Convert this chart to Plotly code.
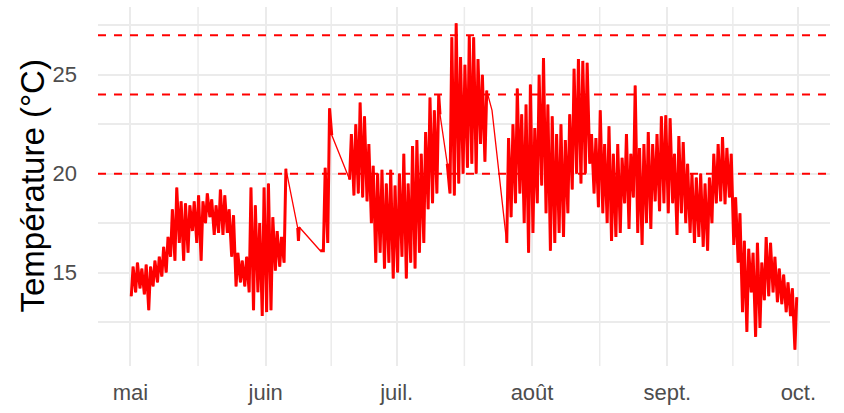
import plotly.graph_objects as go
import pandas as pd

# ---------------- data ----------------
start_day = "2023-05-01"
# daily minimum / maximum temperature (°C); None = no continuous record that day
t_min = [13.8, 14.0, 14.2, 13.9, 13.1, 14.3, 14.5, 14.8, 15.0, 15.8,
         15.6, 16.5, 15.6, 16.0, 17.1, 16.5, 15.6, 17.5, 17.8, 16.9,
         17.0, 16.9, 17.0, 15.8, 14.3, 14.5, 14.3, 14.0, 13.1, 14.0,
         12.8, 13.0, 13.1, 15.1, 15.3, 15.5, None, None, None, None,
         None, None, None, None, 16.1, 16.5, None, None, None, None,
         19.7, 18.9, 19.0, 18.8, 18.6, 17.5, 15.5, 16.0, 15.2, 15.5,
         14.7, 15.0, 15.8, 14.7, 15.5, 15.2, 16.0, 16.5, 18.2, 18.5,
         19.0, None, None, 19.0, 18.9, 19.5, 20.0, 20.3, 20.5, 20.0,
         21.5, 20.6, None, None, None, None, 16.5, 17.8, 18.5, 19.0,
         17.5, 16.0, 17.0, 18.5, 19.4, 18.0, 16.1, 16.5, 17.0, 16.8,
         18.0, 19.2, 20.0, 19.5, 20.0, 20.5, 19.0, 18.3, 18.0, 17.5,
         16.6, 16.8, 17.0, 18.5, 17.2, 18.8, 17.0, 16.4, 17.5, 17.2,
         18.6, 18.1, 18.5, 18.0, 18.5, 16.9, 18.0, 17.5, 17.0, 16.5,
         16.8, 16.3, 16.1, 17.5, 18.5, 18.6, 18.45, 18.8, 16.4, 15.5,
         13.0, 12.0, 14.0, 11.75, 12.2, 13.6, 13.8, 14.0, 13.5, 13.4,
         13.0, 12.8, 11.1]
t_max = [15.3, 15.5, 15.2, 15.4, 15.3, 15.6, 15.8, 16.3, 16.8, 18.2,
         19.3, 18.6, 18.5, 18.4, 18.6, 18.9, 18.6, 19.0, 18.7, 18.4,
         19.2, 18.9, 18.2, 17.9, 16.0, 15.6, 15.8, 19.3, 18.4, 17.5,
         19.3, 19.5, 17.8, 17.1, 16.8, 20.25, None, None, None, None,
         None, None, None, None, 20.3, 23.3, None, None, None, None,
         22.0, 22.5, 23.6, 22.9, 21.5, 20.4, 20.0, 20.2, 19.5, 20.2,
         19.4, 20.0, 21.0, 19.5, 21.4, 21.7, 21.0, 22.1, 23.85, 23.2,
         24.0, None, None, 26.9, 27.6, 25.9, 25.5, 27.0, 26.9, 25.8,
         25.0, 24.2, None, None, None, None, 21.8, 22.5, 24.3, 23.0,
         23.5, 24.5, 22.3, 25.0, 25.85, 23.5, 22.9, 22.0, 22.5, 21.7,
         23.0, 25.3, 25.8, 25.7, 25.6, 22.0, 21.8, 23.2, 21.5, 22.4,
         21.0, 21.5, 20.8, 22.0, 21.0, 24.45, 21.3, 21.5, 22.1, 21.5,
         22.0, 22.9, 22.95, 22.8, 21.0, 21.9, 21.6, 20.5, 20.0, 19.8,
         20.0, 19.5, 19.8, 21.0, 21.5, 21.85, 21.3, 21.0, 18.8, 18.0,
         16.6, 16.2, 16.0, 16.5, 15.5, 16.8, 16.5, 15.8, 15.2, 14.9,
         14.5, 14.2, 13.75]
# isolated readings around the recording gaps
gap_times = ["2023-06-08 08:00", "2023-06-08 12:00", "2023-06-08 16:00",
             "2023-06-13 12:00", "2023-06-16 03:00", "2023-07-10 22:00",
             "2023-07-12 14:00", "2023-07-22 20:00", "2023-07-26 22:00"]
gap_values = [17.25, 16.6, 17.3, 16.1, 21.95, 23.0, 20.5, 23.2, 19.95]

thresholds = [20, 24, 27]
month_ticks = ["2023-05-01", "2023-06-01", "2023-07-01",
               "2023-08-01", "2023-09-01", "2023-10-01"]
month_labels = ["mai", "juin", "juil.", "août", "sept.", "oct."]

# ---------------- build the series ----------------
day0 = pd.Timestamp(start_day)
rows = []
for i, (lo, hi) in enumerate(zip(t_min, t_max)):
    if lo is None:
        continue
    d = day0 + pd.Timedelta(days=i)
    rows.append((d + pd.Timedelta(hours=5), lo))
    rows.append((d + pd.Timedelta(hours=15), hi))
for t, v in zip(gap_times, gap_values):
    rows.append((pd.Timestamp(t), v))
df = pd.DataFrame(rows, columns=["time", "temp"]).sort_values("time").reset_index(drop=True)

# dense (continuous) stretches: break the line where readings are > 20 h apart
dense_x, dense_y = [], []
prev = None
for t, v in zip(df["time"], df["temp"]):
    if prev is not None and (t - prev) > pd.Timedelta(hours=20):
        dense_x.append(None)
        dense_y.append(None)
    dense_x.append(t)
    dense_y.append(v)
    prev = t

# ggplot-like 5% expansion
tmin, tmax = df["time"].min(), df["time"].max()
pad_t = (tmax - tmin) * 0.05
vmin, vmax = df["temp"].min(), df["temp"].max()
pad_v = (vmax - vmin) * 0.05

GRID = "#EBEBEB"
RED = "#FF0000"
fig = go.Figure()
# full series (straight segments across the recording gaps)
fig.add_trace(go.Scatter(x=df["time"], y=df["temp"], mode="lines",
                         line=dict(color=RED, width=1.3),
                         hoverinfo="skip", showlegend=False))
# dense stretches, drawn thicker so the hourly-like band reads as filled
fig.add_trace(go.Scatter(x=dense_x, y=dense_y, mode="lines",
                         line=dict(color=RED, width=3.0),
                         connectgaps=False,
                         hoverinfo="skip", showlegend=False))

shapes = []
# minor vertical grid lines midway between month breaks
mt = [pd.Timestamp(m) for m in month_ticks]
for a, b in zip(mt[:-1], mt[1:]):
    mid = a + (b - a) / 2
    shapes.append(dict(type="line", xref="x", yref="paper", x0=mid, x1=mid,
                       y0=0, y1=1, layer="below",
                       line=dict(color=GRID, width=1.5)))
for h in thresholds:
    shapes.append(dict(type="line", xref="paper", yref="y", x0=0, x1=1,
                       y0=h, y1=h,
                       line=dict(color=RED, width=2, dash="8px,8px")))

fig.update_layout(
    width=844, height=413,
    margin=dict(l=98, r=14, t=7, b=47),
    paper_bgcolor="white", plot_bgcolor="white",
    font=dict(family="Liberation Sans, Arial, sans-serif", color="#4D4D4D"),
    shapes=shapes,
    annotations=[dict(text="Température (°C)", xref="paper", yref="paper",
                      x=0, y=0.5, xanchor="center", yanchor="middle",
                      xshift=-66, textangle=-90, showarrow=False,
                      font=dict(size=33, color="#000000"))],
    xaxis=dict(range=[tmin - pad_t, tmax + pad_t], tickvals=month_ticks,
               ticktext=month_labels, showgrid=True, gridcolor=GRID,
               gridwidth=2, zeroline=False, showline=False, ticks="",
               automargin=False,
               tickfont=dict(size=22, color="#4D4D4D"),
               ticklabelstandoff=11),
    yaxis=dict(range=[vmin - pad_v, vmax + pad_v], tickvals=[15, 20, 25],
               showgrid=True, gridcolor=GRID, gridwidth=2, zeroline=False,
               showline=False, ticks="", automargin=False,
               tickfont=dict(size=22, color="#4D4D4D"),
               ticklabelstandoff=20,
               minor=dict(tickvals=[12.5, 17.5, 22.5, 27.5], showgrid=True,
                          gridcolor=GRID, gridwidth=1.5)),
)

fig.write_html("out.html", config={"displayModeBar": False},
               post_script="document.body.style.margin='0';"
                           "document.body.style.padding='0';")
